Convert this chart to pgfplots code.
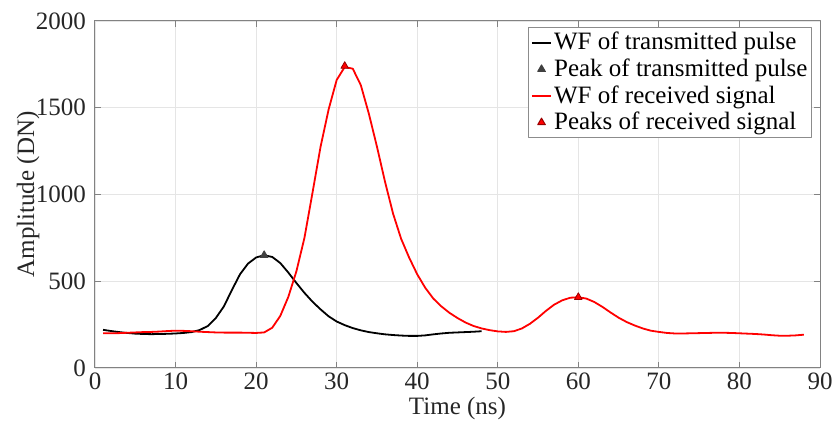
\documentclass[border=0pt]{standalone}
\usepackage{fontspec}
\setmainfont{Liberation Serif}
\usepackage{pgfplots}
\pgfplotsset{compat=1.18}
\definecolor{axgray}{RGB}{130,130,130}
\definecolor{txtgray}{RGB}{38,38,38}
\definecolor{peakgray}{RGB}{64,64,64}
\begin{document}
\begin{tikzpicture}
\begin{axis}[
  scale only axis, width=362.5pt, height=173.5pt,
  xmin=0, xmax=90, ymin=0, ymax=2000,
  xtick={0,10,...,90}, ytick={0,500,...,2000},
  /pgf/number format/assume math mode=true,
  /pgf/number format/set thousands separator={},
  font=\fontsize{12.5}{15}\selectfont,
  tick label style={text=txtgray},
  label style={text=txtgray},
  axis line style={axgray, line width=0.5pt},
  tick style={axgray, line width=0.5pt},
  tick align=inside, major tick length=3pt,
  grid=major, major grid style={black!10, line width=0.4pt},
  xticklabel style={yshift=1pt},
  yticklabel style={xshift=-1pt},
  xlabel={Time (ns)}, ylabel={Amplitude (DN)},
  xlabel style={at={(axis description cs:0.5,-0.118)}, anchor=center},
  ylabel style={at={(axis description cs:-0.0924,0.5)}, anchor=center},
  legend cell align=left,
  legend style={at={(rel axis cs:0.989,0.983)}, anchor=north east,
    draw=black!45, line width=0.5pt, fill=white, text=black,
    font=\fontsize{12.5}{14}\selectfont, inner xsep=1pt, inner ysep=1pt,
    row sep=0pt, nodes={inner xsep=1pt, inner ysep=1.5pt}},
  legend image code/.code={\draw[mark repeat=2,mark phase=2,#1] plot coordinates {(0cm,0cm) (0.17cm,0cm) (0.34cm,0cm)};},
  line join=round,
]
\addplot[black, line width=0.9pt] coordinates {
(1,220)(2,213)(3,207)(4,202)(5,198)(6,196)(7,195)(8,196)(9,197)(10,199)
(11,202)(12,207)(13,219)(14,242)(15,288)(16,355)(17,450)(18,540)(19,602)(20,637)
(21,650)(22,640)(23,605)(24,550)(25,490)(26,433)(27,382)(28,338)(29,298)(30,268)
(31,247)(32,230)(33,217)(34,207)(35,200)(36,194)(37,190)(38,187)(39,185)(40,185)
(41,188)(42,194)(43,199)(44,203)(45,205)(46,207)(47,209)(48,212)};
\addlegendentry{WF of transmitted pulse}
\addplot[only marks, mark=triangle*, mark size=2.2pt, draw=peakgray, fill=peakgray] coordinates {(21,650)};
\addlegendentry{Peak of transmitted pulse}
\addplot[red, line width=0.9pt] coordinates {
(1,200)(2,200)(3,201)(4,203)(5,205)(6,207)(7,208)(8,210)(9,213)(10,215)
(11,214)(12,212)(13,209)(14,207)(15,205)(16,204)(17,204)(18,204)(19,203)(20,202)
(21,205)(22,232)(23,300)(24,410)(25,557)(26,750)(27,1010)(28,1275)(29,1490)(30,1660)
(31,1735)(32,1725)(33,1630)(34,1465)(35,1276)(36,1074)(37,890)(38,745)(39,636)(40,540)
(41,462)(42,400)(43,355)(44,318)(45,288)(46,262)(47,242)(48,228)(49,218)(50,211)
(51,208)(52,212)(53,228)(54,255)(55,290)(56,330)(57,365)(58,390)(59,405)(60,408)
(61,400)(62,380)(63,352)(64,320)(65,290)(66,265)(67,245)(68,228)(69,215)(70,208)
(71,202)(72,199)(73,199)(74,200)(75,201)(76,202)(77,203)(78,203)(79,202)(80,200)
(81,198)(82,196)(83,193)(84,189)(85,186)(86,186)(87,188)(88,192)};
\addlegendentry{WF of received signal}
\addplot[only marks, mark=triangle*, mark size=2.2pt, draw=red!60!black, fill=red] coordinates {(31,1740)(60,408)};
\addlegendentry{Peaks of received signal}
\end{axis}
\pgfresetboundingbox
\path ([shift={(-47.5pt,-32pt)}]current axis.south west) rectangle ([shift={(7pt,10.5pt)}]current axis.north east);
\end{tikzpicture}
\end{document}
